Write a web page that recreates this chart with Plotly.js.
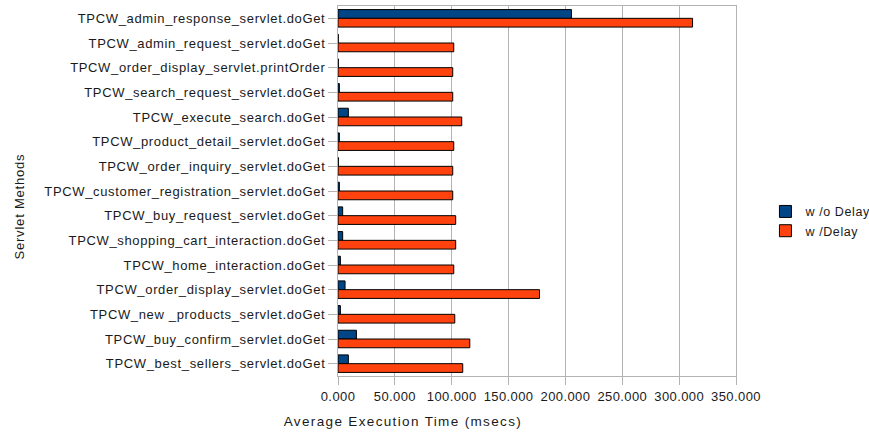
<!DOCTYPE html>
<html>
<head>
<meta charset="utf-8">
<script src="https://cdn.plot.ly/plotly-3.0.1.min.js"></script>
<style>
html,body{margin:0;padding:0;background:#fff;}
#chart{width:869px;height:435px;}
#chart .ytick text{letter-spacing:0.65px;}
#chart .xtick text{letter-spacing:0.4px;}
#chart .legendtext{letter-spacing:0.6px;}
#chart .annotation-text.xt{letter-spacing:1.35px;}
#chart .annotation-text.yt{letter-spacing:0.8px;}
</style>
</head>
<body>
<div id="chart"></div>
<script>
var categories = [
  "TPCW_admin_response_servlet.doGet",
  "TPCW_admin_request_servlet.doGet",
  "TPCW_order_display_servlet.printOrder",
  "TPCW_search_request_servlet.doGet",
  "TPCW_execute_search.doGet",
  "TPCW_product_detail_servlet.doGet",
  "TPCW_order_inquiry_servlet.doGet",
  "TPCW_customer_registration_servlet.doGet",
  "TPCW_buy_request_servlet.doGet",
  "TPCW_shopping_cart_interaction.doGet",
  "TPCW_home_interaction.doGet",
  "TPCW_order_display_servlet.doGet",
  "TPCW_new _products_servlet.doGet",
  "TPCW_buy_confirm_servlet.doGet",
  "TPCW_best_sellers_servlet.doGet"
];
var withoutDelay = [205.3, 0.2, 0.3, 1.2, 9.1, 1.2, 0.3, 1.2, 4.1, 4.1, 2.1, 6.2, 2.1, 16.2, 9.1];
var withDelay = [311.8, 101.8, 100.9, 100.9, 108.8, 101.8, 100.9, 100.9, 103.5, 103.5, 101.8, 177.2, 102.7, 115.9, 109.7];
var seriesNames = ["w /o Delay", "w /Delay"];
var xTicks = [0, 50, 100, 150, 200, 250, 300, 350];
var xTitle = "Average Execution Time (msecs)";
var yTitle = "Servlet Methods";

var traces = [
  {type: "bar", orientation: "h", name: seriesNames[0], y: categories, x: withoutDelay,
   marker: {color: "#004586", line: {color: "#000000", width: 1}}},
  {type: "bar", orientation: "h", name: seriesNames[1], y: categories, x: withDelay,
   marker: {color: "#ff420e", line: {color: "#000000", width: 1}}}
];

var fam = "Liberation Sans, Arial, sans-serif";
var txt = "#1a1a1a";

var layout = {
  width: 869, height: 435,
  margin: {l: 338, r: 133, t: 6, b: 59, autoexpand: false},
  paper_bgcolor: "#ffffff", plot_bgcolor: "#ffffff",
  font: {family: fam, size: 13, color: txt},
  barmode: "group",
  bargap: 0.29,
  bargroupgap: 0,
  showlegend: true,
  legend: {x: 1.074, xanchor: "left", y: 0.418, yanchor: "middle",
           font: {family: fam, size: 12.5, color: txt},
           tracegroupgap: 0, traceorder: "normal", bgcolor: "rgba(0,0,0,0)"},
  xaxis: {
    range: [0, 350], tickvals: xTicks, tickformat: ".3f",
    showgrid: true, gridcolor: "#b3b3b3", gridwidth: 1,
    showline: true, linecolor: "#b3b3b3", mirror: true,
    ticks: "outside", ticklen: 8, tickcolor: "#b3b3b3",
    zeroline: false, automargin: false,
    tickfont: {family: fam, size: 13, color: txt}
  },
  yaxis: {
    type: "category", autorange: "reversed",
    showgrid: false,
    showline: true, linecolor: "#b3b3b3", mirror: true,
    ticks: "outside", ticklen: 9, tickcolor: "#b3b3b3",
    tickfont: {family: fam, size: 13, color: txt},
    automargin: false
  },
  annotations: [
    {text: xTitle, xref: "paper", yref: "paper", x: 0.163, y: -0.124,
     xanchor: "center", yanchor: "middle", showarrow: false, captureevents: false,
     font: {family: fam, size: 13.5, color: txt}},
    {text: yTitle, xref: "paper", yref: "paper", x: -0.8, y: 0.457,
     xanchor: "center", yanchor: "middle", textangle: -90, showarrow: false,
     font: {family: fam, size: 13, color: txt}}
  ]
};

Plotly.newPlot("chart", traces, layout, {displayModeBar: false, staticPlot: true}).then(function () {
  var anns = document.querySelectorAll("#chart .annotation-text");
  if (anns[0]) anns[0].classList.add("xt");
  if (anns[1]) anns[1].classList.add("yt");
});
</script>
</body>
</html>
